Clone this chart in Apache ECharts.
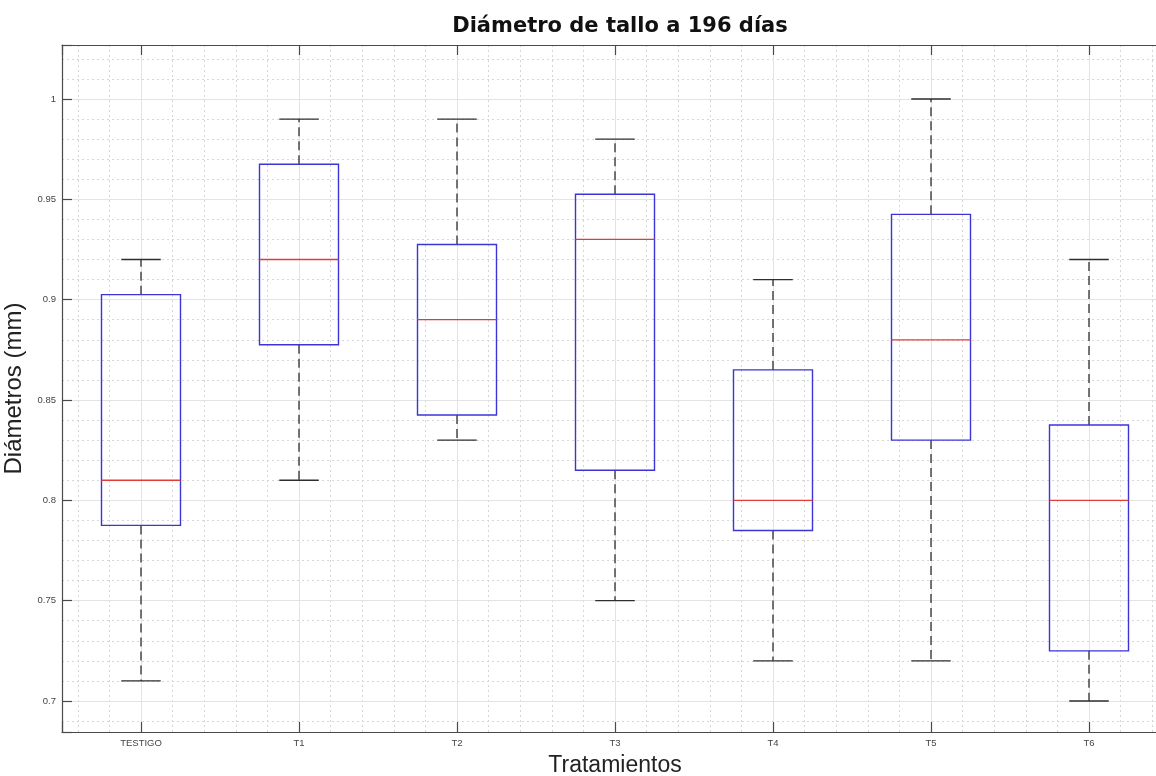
<!DOCTYPE html>
<html>
<head>
<meta charset="utf-8">
<script src="https://cdn.jsdelivr.net/npm/echarts@6/dist/echarts.min.js"></script>
<style>
html,body{margin:0;padding:0;background:#fff;}
#chart{width:1156px;height:776px;}
</style>
</head>
<body>
<div id="chart"></div>
<script>
const categories = ['TESTIGO', 'T1', 'T2', 'T3', 'T4', 'T5', 'T6'];
const minVals = [0.71, 0.81, 0.83, 0.75, 0.72, 0.72, 0.70];
const q1Vals  = [0.7875, 0.8775, 0.8425, 0.815, 0.785, 0.83, 0.725];
const medVals = [0.81, 0.92, 0.89, 0.93, 0.80, 0.88, 0.80];
const q3Vals  = [0.9025, 0.9675, 0.9275, 0.9525, 0.865, 0.9425, 0.8375];
const maxVals = [0.92, 0.99, 0.99, 0.98, 0.91, 1.00, 0.92];

const Y_MIN = 0.68455, Y_MAX = 1.0269;

const data = categories.map((c, i) => [i + 1, minVals[i], q1Vals[i], medVals[i], q3Vals[i], maxVals[i]]);

const chart = echarts.init(document.getElementById('chart'), null, {renderer: 'canvas'});
const FONT = '"Liberation Sans", Arial, Helvetica, sans-serif';
const axisCol = '#4a4a4a';

function renderItem(params, api) {
  const x = api.value(0);
  const pMin = api.coord([x, api.value(1)]);
  const pQ1 = api.coord([x, api.value(2)]);
  const pMed = api.coord([x, api.value(3)]);
  const pQ3 = api.coord([x, api.value(4)]);
  const pMax = api.coord([x, api.value(5)]);
  const boxW = api.size([0.5, 0])[0];
  const capW = api.size([0.25, 0])[0];
  const cx = pMed[0];
  const dashStyle = {stroke: '#2e2e2e', lineWidth: 1.3, lineDash: [9, 5], fill: null};
  const solid = {stroke: '#2e2e2e', lineWidth: 1.3, fill: null};
  return {
    type: 'group',
    children: [
      {type: 'line', shape: {x1: cx, y1: pQ3[1], x2: cx, y2: pMax[1]}, style: dashStyle},
      {type: 'line', shape: {x1: cx, y1: pQ1[1], x2: cx, y2: pMin[1]}, style: dashStyle},
      {type: 'line', shape: {x1: cx - capW / 2, y1: pMax[1], x2: cx + capW / 2, y2: pMax[1]}, style: solid},
      {type: 'line', shape: {x1: cx - capW / 2, y1: pMin[1], x2: cx + capW / 2, y2: pMin[1]}, style: solid},
      {type: 'rect', shape: {x: cx - boxW / 2, y: pQ3[1], width: boxW, height: pQ1[1] - pQ3[1]},
        style: {stroke: '#3b35d8', lineWidth: 1.4, fill: null}},
      {type: 'line', shape: {x1: cx - boxW / 2, y1: pMed[1], x2: cx + boxW / 2, y2: pMed[1]},
        style: {stroke: '#e03c3c', lineWidth: 1.3}}
    ]
  };
}

const option = {
  backgroundColor: '#ffffff',
  animation: false,
  title: {
    text: 'Diámetro de tallo a 196 días',
    left: 615, top: 11, textAlign: 'center',
    textStyle: {fontFamily: '"DejaVu Sans", sans-serif', fontSize: 21, fontWeight: 'bold', color: '#111'}
  },
  grid: {left: 62, top: 45, width: 1106, height: 687, containLabel: false, outerBoundsMode: 'none', show: false},
  xAxis: [
    {
      type: 'value', min: 0.5, max: 7.5, splitNumber: 7, position: 'bottom',
      name: 'Tratamientos', nameLocation: 'middle', nameGap: 22,
      nameTextStyle: {fontFamily: FONT, fontSize: 23, color: '#222'},
      axisLine: {show: true, lineStyle: {color: axisCol, width: 1.2}},
      axisTick: {show: true, inside: true, length: 10, lineStyle: {color: axisCol, width: 1.2}},
      axisLabel: {
        fontFamily: FONT, fontSize: 9.5, color: '#444', margin: 6,
        formatter: v => (Math.abs(v - Math.round(v)) < 1e-6 && v >= 1 && v <= categories.length) ? categories[Math.round(v) - 1] : ''
      },
      splitLine: {show: true, lineStyle: {color: '#e3e3e3', width: 1}},
      z: 3
    },
    {
      type: 'value', min: 0.5, max: 7.5, splitNumber: 35, position: 'bottom',
      axisLine: {show: false}, axisTick: {show: false}, axisLabel: {show: false},
      splitLine: {show: true, lineStyle: {color: '#d6d6d6', width: 1, type: [2, 3]}},
      z: 1
    },
    {
      type: 'value', min: 0.5, max: 7.5, splitNumber: 7, position: 'top',
      axisLine: {show: true, lineStyle: {color: axisCol, width: 1.2}},
      axisTick: {show: true, inside: true, length: 10, lineStyle: {color: axisCol, width: 1.2}},
      axisLabel: {show: false},
      splitLine: {show: false},
      z: 3
    }
  ],
  yAxis: [
    {
      type: 'value', min: Y_MIN, max: Y_MAX, splitNumber: 7, position: 'left',
      name: 'Diámetros (mm)', nameLocation: 'middle', nameGap: 26, nameRotate: 90,
      nameTextStyle: {fontFamily: FONT, fontSize: 24, color: '#222'},
      axisLine: {show: true, lineStyle: {color: axisCol, width: 1.2}},
      axisTick: {show: true, inside: true, length: 10, lineStyle: {color: axisCol, width: 1.2}},
      axisLabel: {
        fontFamily: FONT, fontSize: 9.5, color: '#444', margin: 6,
        formatter: v => (Math.abs(v * 20 - Math.round(v * 20)) < 1e-6) ? String(+v.toFixed(2)) : ''
      },
      splitLine: {show: true, lineStyle: {color: '#e3e3e3', width: 1}},
      z: 3
    },
    {
      type: 'value', min: Y_MIN, max: Y_MAX, splitNumber: 34, position: 'left',
      axisLine: {show: false}, axisTick: {show: false}, axisLabel: {show: false},
      splitLine: {show: true, lineStyle: {color: '#d6d6d6', width: 1, type: [2, 3]}},
      z: 1
    }
  ],
  series: [
    {
      type: 'custom',
      xAxisIndex: 0, yAxisIndex: 0,
      renderItem: renderItem,
      encode: {x: 0, y: [1, 2, 3, 4, 5]},
      data: data,
      z: 5,
      clip: false
    }
  ]
};
chart.setOption(option);
</script>
</body>
</html>
